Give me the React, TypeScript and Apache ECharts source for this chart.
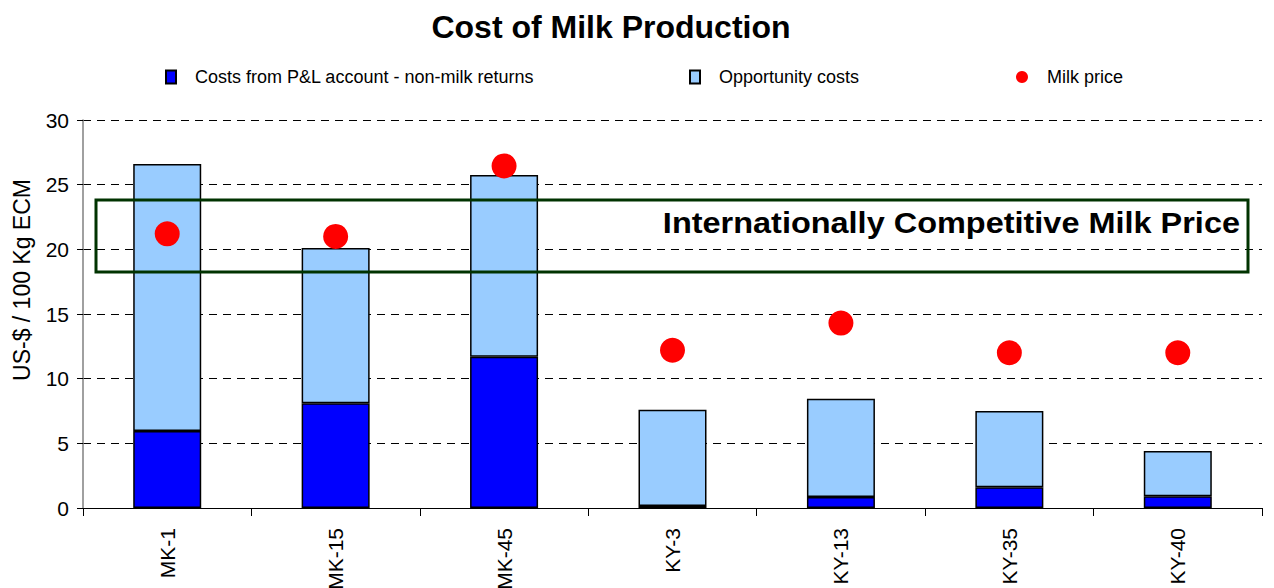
import React, { useEffect, useRef } from "react";
import * as echarts from "echarts";

const categories = ["MK-1", "MK-15", "MK-45", "KY-3", "KY-13", "KY-35", "KY-40"];
const pnlCosts = [5.95, 8.1, 11.7, 0.15, 0.85, 1.6, 0.9];
const opportunityCosts = [20.65, 12.0, 14.05, 7.45, 7.6, 5.9, 3.5];
const milkPrice = [21.2, 21.0, 26.45, 12.2, 14.3, 12.0, 12.0];
const yTicks = { min: 0, max: 30, interval: 5 };

const seriesNames = ["Costs from P&L account - non-milk returns", "Opportunity costs", "Milk price"];
const legendLeft = [160, 684, 1011];

export default function App() {
  const ref = useRef<HTMLDivElement>(null);
  useEffect(() => {
    if (!ref.current) return;
    const chart = echarts.init(ref.current, undefined, { renderer: "svg" });
    const font = "'Liberation Sans', Arial, sans-serif";
    const legendText = { fontSize: 18, color: "#000", padding: [0, 0, 0, 14], fontFamily: font };
    chart.setOption({
      animation: false,
      textStyle: { fontFamily: font },
      title: {
        text: "Cost of Milk Production",
        left: 606,
        textAlign: "center",
        top: 6,
        textStyle: { fontSize: 32, fontWeight: "bold", color: "#000", fontFamily: font },
      },
      legend: seriesNames.map((n, i) => ({
        top: 63,
        left: legendLeft[i],
        itemWidth: i === 2 ? 12 : 10,
        itemHeight: i === 2 ? 14 : 13,
        textStyle: legendText,
        data: [{ name: n, icon: i === 2 ? "circle" : "rect" }],
      })),
      grid: { left: 83, right: 12, top: 120, bottom: 80, containLabel: false, outerBoundsMode: "none" },
      xAxis: {
        type: "category",
        data: categories,
        axisLine: { lineStyle: { color: "#000", width: 1 } },
        axisTick: { show: true, length: 8, lineStyle: { color: "#000" } },
        axisLabel: { rotate: 90, fontSize: 21, color: "#000", margin: 20, fontFamily: font },
      },
      yAxis: {
        type: "value",
        min: yTicks.min,
        max: yTicks.max,
        interval: yTicks.interval,
        axisLine: { show: true, lineStyle: { color: "#808080", width: 1.5 } },
        axisTick: { show: true, length: 6, lineStyle: { color: "#000" } },
        axisLabel: { fontSize: 21, color: "#000", margin: 14, fontFamily: font },
        splitLine: { lineStyle: { color: "#000", type: [8, 6], width: 1 } },
      },
      series: [
        {
          name: seriesNames[0],
          type: "bar",
          stack: "c",
          barWidth: 68,
          data: pnlCosts,
          itemStyle: { color: "#0000ff", borderColor: "#000", borderWidth: 1.5 },
        },
        {
          name: seriesNames[1],
          type: "bar",
          stack: "c",
          barWidth: 68,
          data: opportunityCosts,
          itemStyle: { color: "#99ccff", borderColor: "#000", borderWidth: 1.5 },
        },
        {
          name: seriesNames[2],
          type: "scatter",
          data: milkPrice,
          symbol: "circle",
          symbolSize: 25,
          itemStyle: { color: "#ff0000", opacity: 1 },
          z: 5,
        },
      ],
      graphic: [
        {
          type: "text",
          x: 22,
          y: 280,
          rotation: Math.PI / 2,
          style: {
            text: "US-$ / 100 Kg ECM",
            fontSize: 23,
            fill: "#000",
            textAlign: "center",
            textVerticalAlign: "middle",
            fontFamily: font,
          },
        },
        {
          type: "rect",
          shape: { x: 96, y: 200, width: 1152, height: 72 },
          style: { fill: "none", stroke: "#003300", lineWidth: 3 },
          z: 10,
        },
        {
          type: "text",
          x: 1240,
          y: 223,
          scaleX: 1.12,
          style: {
            text: "Internationally Competitive Milk Price",
            fontSize: 29,
            fontWeight: "bold",
            fill: "#000",
            textAlign: "right",
            textVerticalAlign: "middle",
            fontFamily: font,
          },
          z: 10,
        },
      ],
    });
    return () => chart.dispose();
  }, []);
  return <div ref={ref} style={{ width: 1274, height: 588, position: "absolute", left: 0, top: 0 }} />;
}
